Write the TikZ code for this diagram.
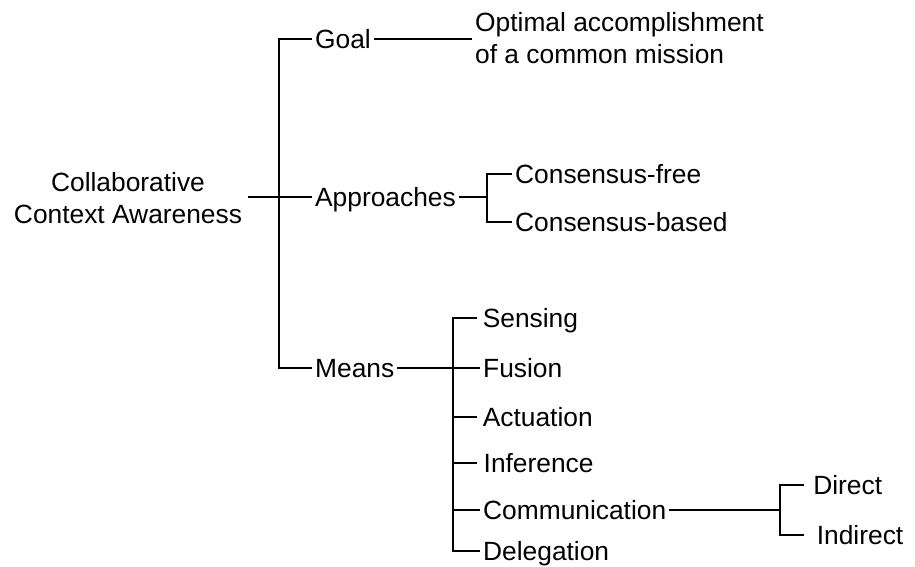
\documentclass[tikz,border=0pt]{standalone}
\usepackage{fontspec}
\setmainfont{Liberation Sans}
\usetikzlibrary{positioning}

\begin{document}
\begin{tikzpicture}[x=0.02cm, y=-0.02cm, font=\fontsize{15}{18}\selectfont,
    item/.style={anchor=west, inner sep=1.5pt, text height=10.7pt, text depth=0pt},
    every path/.style={line width=0.6pt}]
\useasboundingbox (0,0) rectangle (915,567);

\node[align=center] (cca) at (128,198) {Collaborative\\Context Awareness};

\node[item] (goal) at (312,39) {Goal};
\node[item] (appr) at (312,197) {Approaches};
\node[item] (means) at (312,368) {Means};

\node[align=left, anchor=west, inner sep=1.5pt] (mission) at (472,38) {Optimal accomplishment\\of a common mission};

\node[item] (free) at (512,174) {Consensus-free};
\node[item] (based) at (512,222) {Consensus-based};

\node[item, inner xsep=3pt] (sens) at (477,318) {Sensing};
\node[item] (fus) at (480,368) {Fusion};
\node[item, inner xsep=3pt] (act) at (477,417) {Actuation};
\node[item, inner xsep=3.5pt] (inf) at (477,463) {Inference};
\node[item] (comm) at (480,510) {Communication};
\node[item] (deleg) at (480,551) {Delegation};

\node[item, inner xsep=5pt] (direct) at (804,485) {Direct};
\node[item, inner xsep=7pt] (indirect) at (804,535) {Indirect};

\coordinate (j1) at (279,0);
\coordinate (j2) at (487,0);
\coordinate (j3) at (453,0);
\coordinate (j4) at (780,0);

\draw (cca.east |- appr.west) -- (appr.west);
\draw (goal.west) -| (j1 |- means.west) -- (means.west);
\draw (goal.east) -- (goal.east -| mission.west);

\draw (appr.east) -- (appr.east -| j2);
\draw (free.west) -| (j2 |- based.west) -- (based.west);

\draw (means.east) -- (fus.west);
\draw (sens.west) -| (j3 |- deleg.west) -- (deleg.west);
\foreach \n in {act,inf,comm}
    \draw (\n.west) -- (\n.west -| j3);

\draw (comm.east) -- (comm.east -| j4);
\draw (direct.west) -| (j4 |- indirect.west) -- (indirect.west);
\end{tikzpicture}
\end{document}
